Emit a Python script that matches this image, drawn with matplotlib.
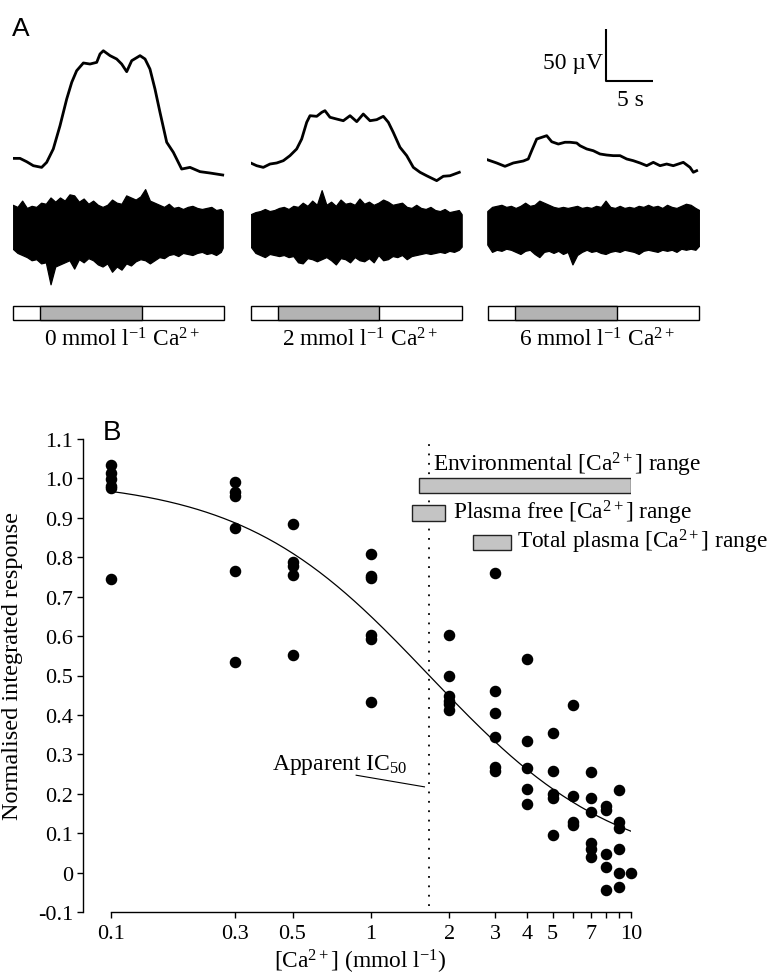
import numpy as np
import matplotlib
matplotlib.use("Agg")
import matplotlib.pyplot as plt
from matplotlib.ticker import FixedLocator, FixedFormatter, NullFormatter

plt.rcParams['font.family'] = ['Liberation Serif', 'DejaVu Serif']
plt.rcParams['mathtext.fontset'] = 'custom'
plt.rcParams['mathtext.rm'] = 'Liberation Serif'
plt.rcParams['mathtext.it'] = 'Liberation Serif:italic'
plt.rcParams['mathtext.bf'] = 'Liberation Serif:bold'

# ---------------- Panel A data (time in s, slow potential in µV) ----------------
slow_t_0 = [0, 0.77, 1.48, 2.18, 3.06, 3.59, 4.29, 5.0, 5.71, 6.24, 6.76, 7.47, 8.17, 8.88, 9.23, 9.58,
            10.29, 10.99, 11.52, 12.05, 12.58, 13.46, 13.99, 14.51, 15.04, 15.57, 16.28, 16.98, 17.86,
            18.74, 19.80, 20.86, 22.2]
slow_v_0 = [24.5, 24.5, 21.3, 17.5, 15.9, 20.7, 33.5, 55.7, 81.3, 97.2, 108.3, 115.7, 114.7, 116.3, 124.3,
            127.4, 122.7, 119.5, 114.7, 107.4, 117.9, 122.7, 119.5, 109.9, 90.8, 68.5, 39.9, 30.3, 14.3,
            15.9, 11.8, 10.5, 8.6]
slow_t_2 = [0, 0.63, 1.33, 2.04, 2.75, 3.45, 4.15, 4.86, 5.39, 5.92, 6.27, 6.98, 7.51, 7.85, 8.38, 9.09,
            9.79, 10.50, 11.21, 11.90, 12.61, 13.32, 14.02, 14.55, 15.07, 15.78, 16.49, 17.19, 17.90,
            18.60, 19.66, 20.36, 21.07, 22.05]
slow_v_2 = [20.1, 17.5, 15.9, 19.1, 20.1, 22.3, 27.1, 33.5, 43.0, 59.0, 65.3, 64.7, 68.5, 70.1, 63.8, 62.1,
            60.5, 65.3, 59.6, 66.9, 60.5, 61.5, 64.7, 59.0, 49.4, 35.1, 27.1, 15.9, 11.2, 7.9, 3.2, 7.4,
            7.9, 11.2]
slow_t_6 = [0, 0.99, 1.87, 2.75, 3.81, 4.33, 4.69, 5.22, 5.75, 6.28, 6.81, 7.51, 8.21, 8.74, 9.45, 9.80,
            10.51, 11.21, 11.91, 12.62, 13.32, 14.03, 14.74, 15.43, 16.14, 16.85, 17.55, 18.26, 18.96,
            19.66, 20.72, 21.43, 21.78, 22.13]
slow_v_6 = [23.2, 20.1, 16.9, 20.1, 22.0, 23.9, 31.8, 43.0, 44.6, 46.2, 40.4, 38.2, 39.9, 39.9, 39.2, 36.6,
            33.5, 31.8, 28.7, 27.7, 27.1, 27.1, 23.9, 22.3, 20.1, 17.5, 20.7, 17.5, 19.1, 17.5, 20.7, 15.9,
            11.2, 12.7]

# nerve activity: upper / lower extremes (sampled every 0.5 s)
noise_end = [22.2, 22.3, 22.4]
noise_up_0 = [26, 24, 30, 23, 25, 24, 28, 27, 33, 29, 33, 30, 36, 35, 29, 32, 27, 30, 26, 24, 26, 31, 28,
              27, 35, 33, 31, 34, 41, 30, 28, 26, 24, 27, 23, 24, 22, 24, 25, 23, 22, 23, 24, 21, 22, 20]
noise_lo_0 = [-16, -20, -22, -24, -27, -26, -30, -29, -50, -33, -31, -29, -27, -35, -26, -29, -25, -27, -31,
              -33, -30, -38, -33, -36, -30, -32, -28, -26, -27, -30, -27, -24, -25, -22, -21, -23, -20, -21,
              -22, -20, -19, -21, -20, -22, -19, -15]
noise_up_2 = [17, 19, 20, 22, 20, 21, 23, 24, 22, 25, 24, 28, 25, 30, 26, 40, 26, 29, 25, 31, 27, 28, 26,
              32, 27, 29, 26, 28, 31, 29, 26, 27, 28, 24, 23, 26, 23, 22, 24, 21, 20, 22, 19, 20, 21, 17]
noise_lo_2 = [-14, -20, -22, -24, -21, -22, -23, -22, -24, -23, -29, -30, -25, -26, -28, -26, -24, -27, -31,
              -25, -26, -29, -24, -27, -28, -25, -29, -22, -27, -26, -23, -24, -22, -26, -23, -22, -21, -20,
              -21, -20, -19, -20, -18, -19, -17, -14]
noise_up_6 = [20, 24, 25, 26, 24, 25, 23, 25, 28, 25, 26, 30, 28, 26, 24, 23, 24, 23, 24, 25, 23, 24, 23,
              25, 24, 30, 24, 23, 25, 23, 24, 23, 25, 24, 26, 24, 25, 23, 26, 24, 23, 25, 27, 26, 23, 21]
noise_lo_6 = [-12, -19, -17, -18, -16, -17, -19, -21, -18, -17, -21, -24, -19, -18, -20, -18, -21, -19, -31,
              -22, -19, -17, -19, -18, -20, -21, -19, -18, -19, -17, -18, -19, -21, -18, -17, -18, -19, -17,
              -18, -17, -19, -16, -17, -16, -17, -13]

# perfusion bar (s): whole bar and test period (grey)
bar_start = [0.0, 0.0, 0.1]
bar_end = [22.37, 22.37, 22.41]
test_on = [2.89, 2.85, 2.93]
test_off = [13.64, 13.56, 13.68]
panel_labels = ['0 mmol l$^{-1}$ Ca$^{2+}$', '2 mmol l$^{-1}$ Ca$^{2+}$', '6 mmol l$^{-1}$ Ca$^{2+}$']

scale_t = 5.0     # s
scale_v = 50.0    # µV

# ---------------- Panel B data ----------------
conc = [0.1, 0.3, 0.5, 1, 2, 3, 4, 5, 6, 7, 8, 9, 10]
responses = [
    [1.033, 1.015, 0.998, 0.98, 0.975, 0.745],
    [0.99, 0.965, 0.955, 0.875, 0.765, 0.535],
    [0.885, 0.788, 0.778, 0.755, 0.552],
    [0.808, 0.753, 0.748, 0.602, 0.592, 0.433],
    [0.604, 0.499, 0.447, 0.436, 0.427, 0.412],
    [0.759, 0.461, 0.406, 0.343, 0.267, 0.258],
    [0.543, 0.333, 0.265, 0.213, 0.175],
    [0.354, 0.257, 0.2, 0.188, 0.096],
    [0.425, 0.195, 0.129, 0.12],
    [0.254, 0.19, 0.154, 0.074, 0.06, 0.04],
    [0.17, 0.16, 0.047, 0.015, -0.045],
    [0.21, 0.128, 0.112, 0.06, 0.0, -0.036],
    [0.0],
]
# fitted dose-response (Hill) curve parameters
fit_top = 1.0
fit_ic50 = 1.676
fit_n = 1.2

range_names = ['Environmental [Ca$^{2+}$] range', 'Plasma free [Ca$^{2+}$] range',
               'Total plasma [Ca$^{2+}$] range']
range_lo = [1.53, 1.445, 2.47]
range_hi = [10.0, 1.931, 3.46]
range_y = [0.982, 0.912, 0.8375]

xtick_vals = [0.1, 0.3, 0.5, 1, 2, 3, 4, 5, 7, 10]
xtick_labels = ['0.1', '0.3', '0.5', '1', '2', '3', '4', '5', '7', '10']
xminor_vals = [6, 8, 9]
ytick_vals = [-0.1, 0, 0.1, 0.2, 0.3, 0.4, 0.5, 0.6, 0.7, 0.8, 0.9, 1.0, 1.1]
ytick_labels = ['-0.1', '0', '0.1', '0.2', '0.3', '0.4', '0.5', '0.6', '0.7', '0.8', '0.9', '1.0', '1.1']

# ---------------- Figure ----------------
W, H = 773, 979
fig = plt.figure(figsize=(W / 100, H / 100), dpi=100)


def px_axes(left, top, width, height):
    return fig.add_axes([left / W, 1 - (top + height) / H, width / W, height / H])


PX_PER_S = 9.46
PX_PER_UV = 1.046
col_left = [12.7, 250.7, 487.3]
col_w = 212
FS = 16.8

slow_t = [slow_t_0, slow_t_2, slow_t_6]
slow_v = [slow_v_0, slow_v_2, slow_v_6]
noise_up = [noise_up_0, noise_up_2, noise_up_6]
noise_lo = [noise_lo_0, noise_lo_2, noise_lo_6]

for c in range(3):
    xl = (0, col_w / PX_PER_S)
    # slow potential
    a1 = px_axes(col_left[c], 25, col_w, 160)
    a1.plot(slow_t[c], slow_v[c], color='black', lw=2.0, solid_joinstyle='round')
    a1.set_xlim(*xl)
    a1.set_ylim(0, 160 / PX_PER_UV)
    a1.axis('off')
    # nerve activity envelope
    a2 = px_axes(col_left[c], 185, col_w, 105)
    nt = np.append(np.arange(0, 22.01, 0.5), noise_end[c])
    a2.fill_between(nt, noise_lo[c], noise_up[c], color='black', lw=0.9, edgecolor='black')
    a2.set_xlim(*xl)
    a2.set_ylim((233 - 290) / PX_PER_UV, (233 - 185) / PX_PER_UV)
    a2.axis('off')
    # perfusion bar
    a3 = px_axes(col_left[c], 306.7, col_w, 14.3)
    a3.barh(0.5, bar_end[c] - bar_start[c], left=bar_start[c], height=1.0,
            color='white', edgecolor='black', lw=1.0, clip_on=False)
    a3.barh(0.5, test_off[c] - test_on[c], left=test_on[c], height=1.0,
            color='#b3b3b3', edgecolor='black', lw=1.0, clip_on=False)
    a3.set_xlim(*xl)
    a3.set_ylim(0, 1)
    a3.axis('off')
    a3.text((bar_start[c] + bar_end[c]) / 2 + 0.3, -1.8, panel_labels[c],
            ha='center', va='baseline', fontsize=FS)
    if c == 2:
        x0 = 12.55
        y0 = 98.2
        a1.plot([x0, x0, x0 + scale_t], [y0 + scale_v, y0, y0], color='black', lw=1.5,
                clip_on=False, solid_capstyle='butt')
        a1.text(x0 - 0.3, y0 + 18.4, '50 µV', ha='right', va='center', fontsize=17)
        a1.text(x0 + 2.53, y0 - 17.5, '5 s', ha='center', va='center', fontsize=17)

fig.text(11.5 / W, 1 - 35.5 / H, 'A', family='Liberation Sans', fontsize=19, va='baseline')

# ---------------- Panel B ----------------
ax = px_axes(83, 440, 548, 473)
ax.set_xscale('log')
ax.set_xlim(10 ** (-1 - 27.7 / 260), 10)
ax.set_ylim(-0.1, 1.1)

xs = [c for c, r in zip(conc, responses) for _ in r]
ys = [v for r in responses for v in r]

cx = np.logspace(-1, 1, 300)
cy = fit_top / (1 + (cx / fit_ic50) ** fit_n)
ax.plot(cx, cy, color='black', lw=0.9, zorder=2)

ax.axvline(fit_ic50, ymin=(-0.085 + 0.1) / 1.2, ymax=1.0, color='black', lw=1.3,
           ls=(0, (1, 4.2)), zorder=1)

for lo, hi, yc in zip(range_lo, range_hi, range_y):
    ax.barh(yc, hi - lo, left=lo, height=0.04, color='#c4c4c4', edgecolor='#222222',
            lw=1.0, zorder=3)

ax.text(1.737, 1.019, range_names[0], ha='left', va='baseline', fontsize=FS, zorder=4)
ax.text(2.067, 0.899, range_names[1], ha='left', va='baseline', fontsize=FS, zorder=4)
ax.text(3.66, 0.825, range_names[2], ha='left', va='baseline', fontsize=FS, zorder=4)

ax.plot(xs, ys, 'o', color='black', ms=7.3, clip_on=False, zorder=5)

ax.text(0.416, 0.264, 'Apparent IC$_{50}$', ha='left', va='baseline', fontsize=17)
ic_line_x = [0.878, 1.607]
ic_line_y = [0.247, 0.2175]
ax.plot(ic_line_x, ic_line_y, color='black', lw=0.8)

for s in ['top', 'right']:
    ax.spines[s].set_visible(False)
ax.spines['left'].set_bounds(-0.1, 1.1)
ax.spines['bottom'].set_bounds(0.1, 10)
for s in ['left', 'bottom']:
    ax.spines[s].set_linewidth(1.0)

ax.xaxis.set_major_locator(FixedLocator(xtick_vals))
ax.xaxis.set_major_formatter(FixedFormatter(xtick_labels))
ax.xaxis.set_minor_locator(FixedLocator(xminor_vals))
ax.xaxis.set_minor_formatter(NullFormatter())
ax.yaxis.set_major_locator(FixedLocator(ytick_vals))
ax.yaxis.set_major_formatter(FixedFormatter(ytick_labels))
ax.tick_params(axis='both', which='both', direction='out', length=4.2, width=1.0,
               labelsize=16, colors='black')
ax.tick_params(axis='x', pad=4.5)
ax.tick_params(axis='y', pad=3)

fig.text(13 / W, 1 - 666 / H, 'Normalised integrated response', rotation=90,
         ha='center', va='center', fontsize=17.5)
fig.text(360 / W, 1 - 962 / H, '[Ca$^{2+}$] (mmol l$^{-1}$)', ha='center', va='center', fontsize=FS)
fig.text(103 / W, 1 - 440 / H, 'B', family='Liberation Sans', fontsize=20, va='baseline')

fig.savefig('out.png', dpi=100)
